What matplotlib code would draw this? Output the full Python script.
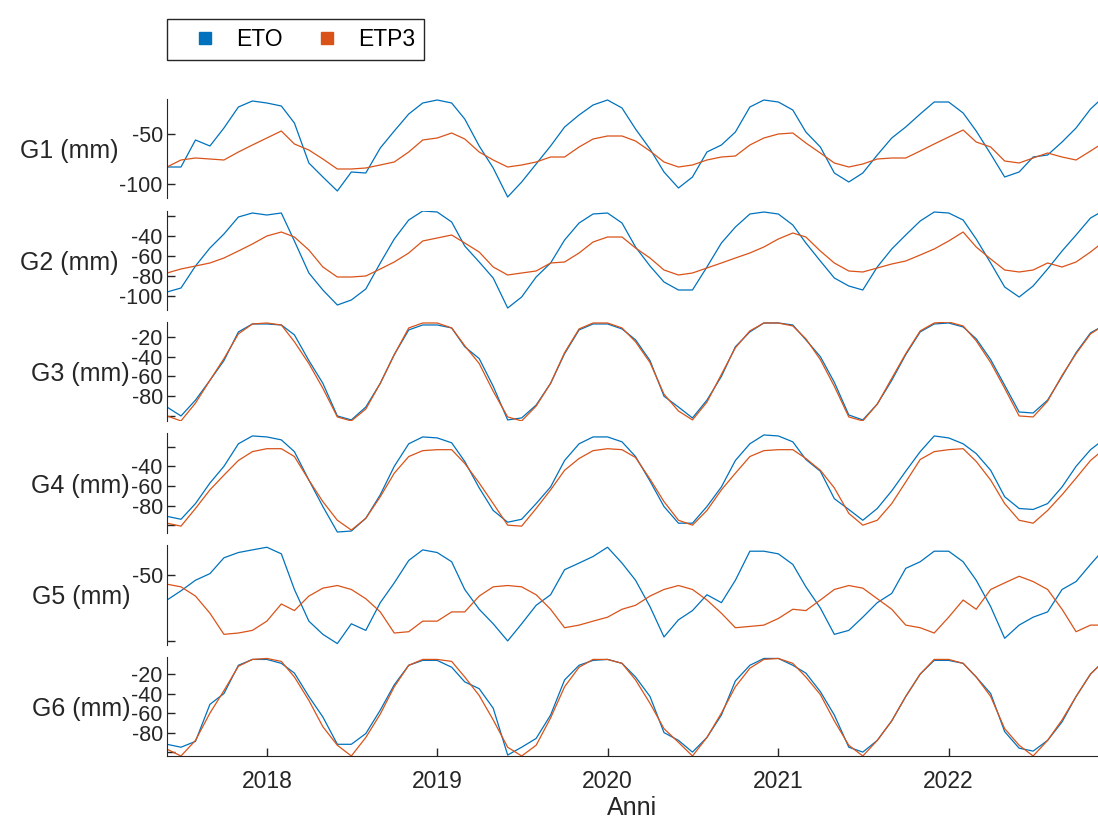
import pandas as pd
import matplotlib
matplotlib.use('Agg')
import matplotlib.pyplot as plt
from matplotlib.lines import Line2D

plt.rcParams['font.family'] = ['Liberation Sans', 'DejaVu Sans']

# monthly values, Jun 2017 .. Dec 2022
months = pd.date_range('2017-06-01', '2022-12-01', freq='MS')
year_ticks = ['2018', '2019', '2020', '2021', '2022']
series_names = ['ETO', 'ETP3']
panel_labels = ['G1 (mm)', 'G2 (mm)', 'G3 (mm)', 'G4 (mm)', 'G5 (mm)', 'G6 (mm)']

g1_eto = [-83, -83, -56, -62, -44, -23, -17, -19, -22, -39,
          -79, -93, -107, -88, -89, -64, -47, -30, -19, -16,
          -19, -35, -62, -84, -113, -98, -80, -62, -43, -31,
          -21, -16, -24, -45, -65, -88, -104, -93, -68, -61,
          -48, -23, -16, -18, -26, -48, -63, -89, -98, -89,
          -71, -54, -43, -30, -18, -18, -29, -47, -70, -93,
          -88, -73, -71, -58, -44, -25, -12]
g1_etp3 = [-83, -76, -74, -75, -76, -68, -61, -54, -47, -60,
           -66, -75, -85, -85, -84, -81, -78, -68, -56, -54,
           -49, -55, -68, -76, -83, -81, -78, -73, -73, -63,
           -55, -52, -52, -57, -67, -78, -83, -81, -76, -73,
           -72, -61, -54, -50, -49, -59, -69, -79, -83, -80,
           -75, -74, -74, -67, -60, -53, -46, -58, -63, -77,
           -79, -74, -69, -73, -76, -67, -58]

g2_eto = [-96, -92, -70, -52, -38, -21, -17, -19, -17, -45,
          -77, -94, -109, -104, -93, -67, -43, -24, -15, -16,
          -26, -50, -66, -82, -112, -101, -81, -67,
          -44, -27, -18, -17, -27, -51, -70, -86, -94, -94,
          -71, -47, -31, -18, -16, -18, -29, -47, -65, -82,
          -90, -94, -71, -53, -39, -25, -16, -17, -24, -43,
          -67, -91, -101, -90, -73, -55, -39, -22, -14]
g2_etp3 = [-77, -73, -70, -67, -62, -55, -48, -40, -36, -41,
           -54, -71, -81, -81, -80, -73, -66, -57, -45, -42,
           -39, -47, -56, -71, -79, -77, -75, -67,
           -66, -57, -46, -41, -41, -52, -62, -74, -79, -77,
           -72, -67, -62, -57, -51, -43, -37, -41, -55, -67,
           -75, -76, -72, -68, -65, -59, -53, -45, -36, -51,
           -63, -74, -76, -74, -67, -71, -66, -56, -45]

g3_eto = [-91, -100, -84, -64, -44, -15, -7, -7, -8, -18,
          -44, -67, -100, -104, -91, -67, -38, -13, -8, -8,
          -11, -30, -42, -70, -104, -102, -89, -67,
          -37, -13, -7, -7, -12, -23, -44, -80, -91, -102,
          -84, -60, -30, -15, -6, -6, -8, -23, -40, -66,
          -99, -104, -88, -64, -38, -15, -7, -6, -10, -22,
          -43, -69, -96, -97, -84, -60, -36, -16, -8]
g3_etp3 = [-100, -105, -87, -64, -42, -17, -7, -6, -8, -25,
           -47, -72, -101, -105, -93, -67, -38, -11, -6, -6,
           -11, -29, -47, -75, -101, -105, -90, -67,
           -36, -12, -6, -6, -11, -25, -46, -78, -95, -104,
           -86, -58, -31, -14, -6, -6, -9, -22, -43, -70,
           -101, -105, -88, -62, -37, -14, -6, -5, -9, -24,
           -46, -72, -100, -101, -85, -59, -37, -17, -8]

g4_eto = [-91, -94, -78, -57, -40, -17, -9, -10, -13, -25,
          -54, -81, -107, -106, -93, -69, -40, -17, -10, -11,
          -16, -35, -62, -85, -97, -94, -78, -61,
          -34, -17, -10, -10, -15, -30, -55, -81, -98, -98,
          -81, -61, -34, -17, -8, -9, -15, -33, -45, -73,
          -84, -95, -83, -65, -45, -25, -9, -11, -17, -27,
          -44, -71, -83, -84, -78, -61, -40, -23, -12]
g4_etp3 = [-98, -101, -83, -64, -49, -34, -25, -22, -22, -30,
           -54, -76, -95, -105, -93, -71, -47, -30, -24, -23,
           -23, -37, -57, -78, -100, -101, -83, -64,
           -44, -32, -24, -22, -23, -31, -53, -76, -95, -100,
           -85, -64, -47, -30, -24, -23, -23, -32, -44, -62,
           -88, -100, -95, -78, -56, -33, -25, -23, -22, -35,
           -54, -78, -95, -98, -85, -69, -52, -34, -22]

g5_eto = [-69, -62, -54, -49, -37, -33, -31, -29, -34, -61,
          -85, -95, -102, -87, -92, -71, -56, -39, -31, -33,
          -40, -61, -76, -87, -100, -87, -73, -65,
          -46, -41, -36, -29, -41, -54, -74, -97, -84, -77,
          -65, -71, -54, -32, -32, -34, -42, -59, -75, -95,
          -92, -82, -71, -64, -45, -40, -32, -32, -40, -54,
          -74, -98, -88, -82, -78, -61, -55, -42, -30]
g5_etp3 = [-57, -59, -66, -79, -95, -94, -92, -85, -72, -77,
           -66, -60, -58, -61, -68, -78, -94, -93, -85, -85,
           -78, -78, -66, -59, -58, -59, -65, -76,
           -90, -88, -85, -82, -76, -73, -66, -61, -58, -61,
           -69, -79, -90, -89, -88, -83, -76, -77, -69, -61,
           -58, -60, -68, -76, -88, -90, -94, -82, -69, -76,
           -61, -56, -51, -55, -61, -76, -93, -88, -88]

g6_eto = [-92, -95, -89, -51, -40, -11, -5, -5, -9, -19,
          -43, -64, -92, -92, -81, -57, -31, -11, -6, -6,
          -13, -28, -35, -55, -103, -95, -86, -62,
          -26, -11, -6, -5, -9, -23, -43, -80, -88, -100,
          -85, -62, -27, -11, -4, -4, -11, -19, -38, -62,
          -95, -100, -88, -68, -43, -20, -6, -6, -9, -23,
          -40, -79, -96, -99, -88, -69, -43, -20, -6]
g6_etp3 = [-97, -104, -88, -60, -37, -12, -5, -4, -7, -23,
           -47, -74, -93, -104, -85, -61, -33, -11, -5, -5,
           -7, -23, -42, -67, -95, -104, -93, -65,
           -33, -13, -5, -5, -9, -26, -50, -76, -90, -104,
           -85, -60, -33, -14, -5, -4, -9, -23, -41, -68,
           -93, -104, -88, -68, -43, -20, -5, -5, -9, -23,
           -43, -76, -93, -104, -88, -67, -43, -20, -6]

# y axis settings per panel: limits, ticks, which tick labels are shown
ylims = [(-114.5, -15), (-114, -14.5), (-105.6, -5), (-108, -6.5), (-102.7, -27.3), (-104, -2)]
yticks = [[-100, -50], [-100, -80, -60, -40, -20], [-100, -80, -60, -40, -20],
          [-100, -80, -60, -40, -20], [-100, -50], [-100, -80, -60, -40, -20]]
hidden = [[], [-20], [-100], [-100, -20], [-100], [-100]]

data = [(g1_eto, g1_etp3), (g2_eto, g2_etp3), (g3_eto, g3_etp3),
        (g4_eto, g4_etp3), (g5_eto, g5_etp3), (g6_eto, g6_etp3)]

colors = ['#0072BD', '#D95319']
axcol = '#262626'

W, H = 1098, 821
fig = plt.figure(figsize=(W / 100, H / 100), dpi=100)

left, top, ph, gap = 167, 99, 99.5, 12
xmin = pd.Timestamp('2017-06-01')
xmax = pd.Timestamp('2022-11-17')

for k in range(6):
    y0 = top + k * (ph + gap)
    ax = fig.add_axes([left / W, 1 - (y0 + ph) / H, 1 - left / W, ph / H])
    eto, etp = data[k]
    ax.plot(months, eto, color=colors[0], lw=0.9)
    ax.plot(months, etp, color=colors[1], lw=0.9)
    ax.set_xlim(xmin, xmax)
    ax.set_ylim(*ylims[k])
    ax.set_yticks(yticks[k])
    ax.set_yticklabels(['' if t in hidden[k] else str(t) for t in yticks[k]])
    for s in ['top', 'right']:
        ax.spines[s].set_visible(False)
    ax.spines['left'].set_color(axcol)
    ax.spines['bottom'].set_color(axcol)
    ax.tick_params(axis='y', direction='in', length=6, width=1, pad=3,
                   labelsize=15.5, colors=axcol)
    ax.set_ylabel(panel_labels[k], rotation=0, ha='right', va='center_baseline',
                  fontsize=18, color=axcol, labelpad=1)
    ax.patch.set_alpha(0)
    if k < 5:
        ax.spines['bottom'].set_visible(False)
        ax.tick_params(axis='x', bottom=False, labelbottom=False)
    else:
        ax.set_xticks(pd.to_datetime(year_ticks))
        ax.set_xticklabels(year_ticks)
        ax.tick_params(axis='x', direction='in', length=6, width=1, pad=10,
                       labelsize=16.5, colors=axcol)
        ax.set_xlabel('Anni', fontsize=18, color=axcol, labelpad=2)

handles = [Line2D([], [], marker='s', linestyle='none', color=c, markersize=8)
           for c in colors]
leg = fig.legend(handles, series_names, loc='upper left',
                 bbox_to_anchor=(left / W, 1 - 19 / H), borderaxespad=0,
                 ncol=2, fontsize=16.5, frameon=True, fancybox=False,
                 framealpha=1, edgecolor=axcol, handlelength=2.5,
                 handletextpad=0.1, columnspacing=0.7, borderpad=0.4)
leg.get_frame().set_linewidth(1.0)

fig.savefig('out.png', dpi=100)
